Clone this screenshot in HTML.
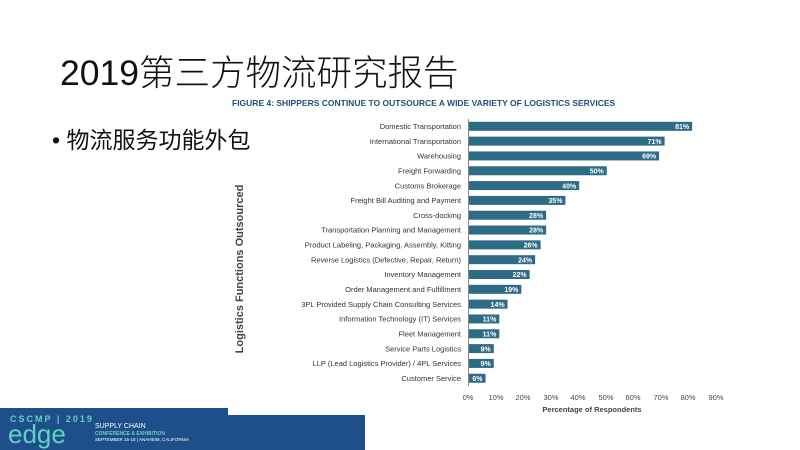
<!DOCTYPE html>
<html><head><meta charset="utf-8"><style>
body{margin:0;width:800px;height:450px;background:#fff;position:relative;overflow:hidden;font-family:"Liberation Sans","Noto Sans CJK SC",sans-serif}
.t{position:absolute;white-space:nowrap}
</style></head><body>
<div class="t" style="left:60px;top:45px;font-size:35.5px;color:#111;font-family:'Liberation Sans','Noto Sans CJK SC',sans-serif;font-weight:300">2019第三方物流研究报告</div>
<div class="t" style="left:52px;top:121px;font-size:23px;color:#111">• 物流服务功能外包</div>
<div class="t" style="left:232px;top:98px;font-size:8.5px;font-weight:bold;color:#1f4e79">FIGURE 4: SHIPPERS CONTINUE TO OUTSOURCE A WIDE VARIETY OF LOGISTICS SERVICES</div>
<div class="t" style="left:240px;top:269px;transform:translate(-50%,-50%) rotate(-90deg);font-size:11px;font-weight:bold;color:#444">Logistics Functions Outsourced</div>
<svg width="800" height="450" style="position:absolute;left:0;top:0" font-family="Liberation Sans, sans-serif">
<g id="bars"></g>
<line x1="468.5" y1="119" x2="468.5" y2="386" stroke="#888" stroke-width="1"/>
<g font-size="7.5" fill="#444" text-anchor="middle">
<text x="468" y="400">0%</text><text x="496" y="400">10%</text><text x="523" y="400">20%</text><text x="551" y="400">30%</text><text x="578" y="400">40%</text><text x="606" y="400">50%</text><text x="633" y="400">60%</text><text x="661" y="400">70%</text><text x="688" y="400">80%</text><text x="716" y="400">90%</text>
</g>
<text x="592" y="412" font-size="7.5" font-weight="bold" fill="#444" text-anchor="middle">Percentage of Respondents</text>
<rect x="0" y="408" width="228" height="42" fill="#1f4f8a"/>
<rect x="228" y="415" width="137" height="35" fill="#1f4f8a"/>
<text x="10" y="422" font-size="9" fill="#5fd3c0" letter-spacing="2" font-weight="bold">CSCMP | 2019</text>
<text x="8" y="443" font-size="26" fill="#5fd3c0">edge</text>
<text x="95" y="428" font-size="7" fill="#fff">SUPPLY CHAIN</text>
<text x="95" y="435" font-size="5" fill="#5fd3c0" font-weight="bold">CONFERENCE &amp; EXHIBITION</text>
<text x="95" y="441" font-size="4.5" fill="#fff">SEPTEMBER 15-18 | ANAHEIM, CALIFORNIA</text>
</svg>
<script>
var d=[["Domestic Transportation",81],["International Transportation",71],["Warehousing",69],["Freight Forwarding",50],["Customs Brokerage",40],["Freight Bill Auditing and Payment",35],["Cross-docking",28],["Transportation Planning and Management",28],["Product Labeling, Packaging, Assembly, Kitting",26],["Reverse Logistics (Defective, Repair, Return)",24],["Inventory Management",22],["Order Management and Fulfillment",19],["3PL Provided Supply Chain Consulting Services",14],["Information Technology (IT) Services",11],["Fleet Management",11],["Service Parts Logistics",9],["LLP (Lead Logistics Provider) / 4PL Services",9],["Customer Service",6]];
var s='';d.forEach(function(r,i){var y=126.3+i*14.82;var w=r[1]*2.755;
s+='<text x="461" y="'+(y+2.7)+'" font-size="7.5" fill="#333" text-anchor="end">'+r[0]+'</text>';
s+='<rect x="469" y="'+(y-4.5)+'" width="'+w+'" height="9" fill="#2e6b84"/>';
s+='<text x="'+(469+w-3)+'" y="'+(y+2.7)+'" font-size="7" font-weight="bold" fill="#fff" text-anchor="end">'+r[1]+'%</text>';});
document.getElementById('bars').innerHTML=s;
</script>
</body></html>
